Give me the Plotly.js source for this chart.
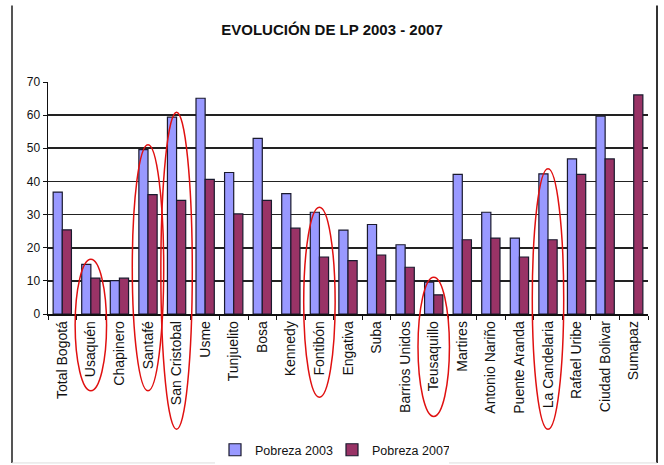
<!DOCTYPE html>
<html>
<head>
<meta charset="utf-8">
<script src="https://cdn.plot.ly/plotly-3.0.1.min.js"></script>
<style>
html,body{margin:0;padding:0;background:#fff;}
#chart{width:664px;height:465px;}
</style>
</head>
<body>
<div id="chart"></div>
<script>
const categories = ["Total Bogotá","Usaquén","Chapinero","Santafé","San Cristobal","Usme","Tunjuelito","Bosa","Kennedy","Fontibón","Engativa","Suba","Barrios Unidos","Teusaquillo","Martires","Antonio Nariño","Puente Aranda","La Candelaria","Rafael Uribe","Ciudad Bolivar","Sumapaz"];
const pobreza2003 = [36.8,15.0,10.1,49.6,59.4,65.1,42.7,53.0,36.3,30.7,25.3,27.0,20.9,9.6,42.1,30.7,22.9,42.3,46.8,59.7,null];
const pobreza2007 = [25.4,10.8,10.8,36.0,34.3,40.6,30.2,34.3,25.9,17.2,16.1,17.8,14.1,5.8,22.4,22.9,17.2,22.4,42.1,46.8,66.1];
const highlighted = ["Usaquén","Santafé","San Cristobal","Fontibón","Teusaquillo","La Candelaria"];
const seriesNames = ["Pobreza 2003","Pobreza 2007"];
const titleText = "EVOLUCIÓN DE LP 2003 - 2007";

const FONT = "Liberation Sans, Arial, sans-serif";
const yMax = 70;
const plotH = 465 - 82 - 151; // plot height in px

const traces = [
  {type:"bar", name:seriesNames[0], x:categories, y:pobreza2003,
   marker:{color:"#9999FF", line:{color:"#1a1a2e", width:1.2}}},
  {type:"bar", name:seriesNames[1], x:categories, y:pobreza2007,
   marker:{color:"#993366", line:{color:"#1a1a2e", width:1.2}}}
];

const shapes = [];
highlighted.forEach(function(c){
  const i = categories.indexOf(c);
  const top = Math.max(pobreza2003[i] || 0, pobreza2007[i] || 0) + 1.5;
  const bottomPx = 32 + 6.4 * c.length;
  shapes.push({type:"circle", xref:"x", yref:"paper",
    x0:i-0.55, x1:i+0.55, y0:-bottomPx/plotH, y1:top/yMax,
    line:{color:"#e01010", width:1.5}, layer:"above"});
});
// frame of the picture
shapes.push({type:"line", xref:"paper", yref:"paper", x0:-0.06, x1:-0.06, y0:-0.642, y1:1.33, line:{color:"#555", width:2}});
shapes.push({type:"line", xref:"paper", yref:"paper", x0:1.015, x1:1.015, y0:-0.642, y1:1.33, line:{color:"#333", width:2}});
shapes.push({type:"line", xref:"paper", yref:"paper", x0:-0.06, x1:1.015, y0:-0.642, y1:-0.642, line:{color:"#ddd", width:1}});

const layout = {
  width:664, height:465,
  margin:{l:48, r:16, t:82, b:151},
  paper_bgcolor:"#fff", plot_bgcolor:"#fff",
  title:{text:titleText, x:0.5, xanchor:"center", y:0.935, yanchor:"middle",
         font:{family:FONT, size:15, color:"#111", weight:"bold"}},
  barmode:"group", bargap:0.36, bargroupgap:0,
  showlegend:true,
  legend:{orientation:"h", x:0.5, xanchor:"center", xref:"container",
          y:0.032, yanchor:"middle", yref:"container",
          font:{family:FONT, size:12.5, color:"#111"}, itemwidth:30, tracegroupgap:0,
          entrywidth:72, entrywidthmode:"pixels"},
  xaxis:{type:"category", tickangle:-90, tickfont:{family:FONT, size:14, color:"#111"},
         showline:true, linecolor:"#111", linewidth:1.5, ticks:"outside", ticklen:4,
         tickcolor:"#111", tickson:"boundaries", showgrid:false, automargin:false},
  yaxis:{range:[0,yMax], dtick:10, tickfont:{family:FONT, size:12, color:"#111"},
         showline:true, linecolor:"#111", linewidth:1.5, ticks:"outside", ticklen:4,
         tickcolor:"#111", showgrid:true, gridcolor:"#222", gridwidth:1.8,
         zeroline:false, automargin:false, fixedrange:true},
  shapes:shapes
};

Plotly.newPlot("chart", traces, layout, {displayModeBar:false, staticPlot:true});
</script>
</body>
</html>
